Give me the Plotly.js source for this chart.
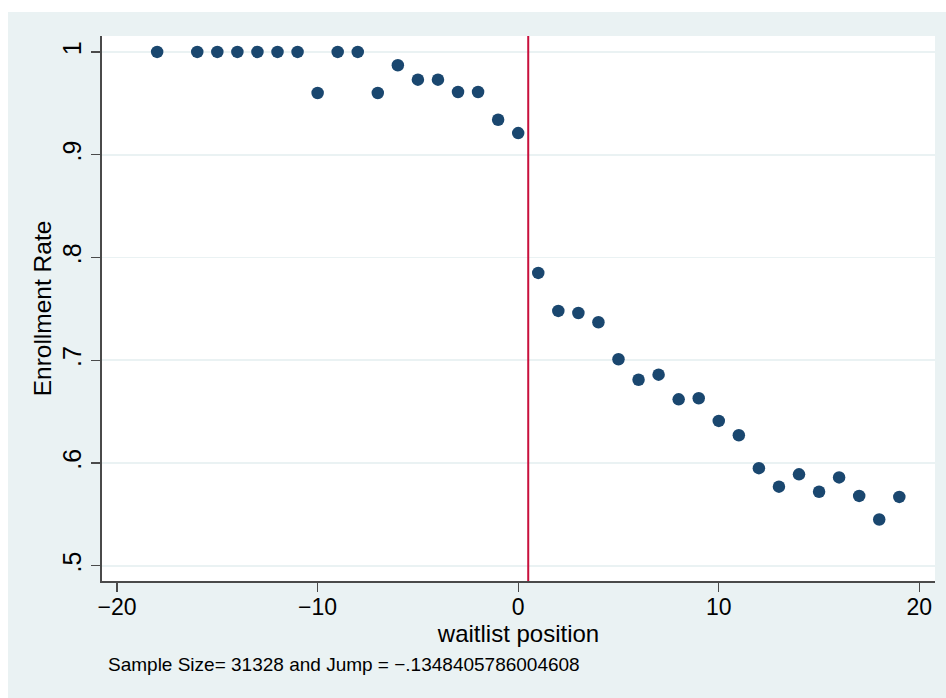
<!DOCTYPE html>
<html>
<head>
<meta charset="utf-8">
<script src="https://cdn.plot.ly/plotly-3.0.1.min.js"></script>
<style>
  html, body { margin: 0; padding: 0; background: #ffffff; }
  #chart { position: absolute; left: 8px; top: 12px; width: 938px; height: 686px; }
</style>
</head>
<body>
<div id="chart"></div>
<script>
// Waitlist position relative to the cutoff
const waitlistPosition = [-18, -16, -15, -14, -13, -12, -11, -10, -9, -8, -7, -6, -5, -4, -3, -2, -1, 0,
                          1, 2, 3, 4, 5, 6, 7, 8, 9, 10, 11, 12, 13, 14, 15, 16, 17, 18, 19];
// Mean enrollment rate at each position
const enrollmentRate = [1.000, 1.000, 1.000, 1.000, 1.000, 1.000, 1.000, 0.960, 1.000, 1.000, 0.960, 0.987,
                        0.973, 0.973, 0.961, 0.961, 0.934, 0.921,
                        0.785, 0.748, 0.746, 0.737, 0.701, 0.681, 0.686, 0.662, 0.663, 0.641, 0.627,
                        0.595, 0.577, 0.589, 0.572, 0.586, 0.568, 0.545, 0.567];
const cutoff = 0.5;
const xTicks = [-20, -10, 0, 10, 20];
const xTickText = ['\u221220', '\u221210', '0', '10', '20'];
const yTicks = [0.5, 0.6, 0.7, 0.8, 0.9, 1];
const yTickText = ['.5', '.6', '.7', '.8', '.9', '1'];
const noteText = 'Sample Size= 31328 and Jump = \u2212.1348405786004608';

const font = 'Liberation Sans, Arial, Helvetica, sans-serif';
const bg = '#eaf2f3';
const axisColor = '#4a4a4a';

const trace = {
  type: 'scatter',
  mode: 'markers',
  x: waitlistPosition,
  y: enrollmentRate,
  marker: { color: '#1a476f', size: 12.5, line: { width: 0 } },
  hoverinfo: 'x+y'
};

const layout = {
  width: 938,
  height: 686,
  paper_bgcolor: bg,
  plot_bgcolor: '#ffffff',
  margin: { l: 94, r: 11, t: 23.5, b: 116.5 },
  showlegend: false,
  font: { family: font, color: '#000000', size: 22 },
  xaxis: {
    range: [-20.75, 20.78],
    tickvals: xTicks,
    ticktext: xTickText,
    showgrid: false,
    zeroline: false,
    showline: true,
    linecolor: axisColor,
    linewidth: 1.6,
    ticks: 'outside',
    ticklen: 9,
    tickwidth: 1.3,
    tickcolor: axisColor,
    ticklabelstandoff: -4,
    tickfont: { size: 23, family: font },
    title: { text: 'waitlist position', font: { size: 24, family: font }, standoff: 3 },
    fixedrange: true
  },
  yaxis: {
    range: [0.4852, 1.0155],
    tickvals: yTicks,
    ticktext: yTickText,
    tickangle: -90,
    showgrid: true,
    gridcolor: bg,
    gridwidth: 1.6,
    zeroline: false,
    showline: true,
    linecolor: axisColor,
    linewidth: 1.6,
    ticks: 'outside',
    ticklen: 9,
    tickwidth: 1.3,
    tickcolor: axisColor,
    tickfont: { size: 25, family: font },
    title: { text: 'Enrollment Rate', font: { size: 24.5, family: font }, standoff: 0 },
    fixedrange: true
  },
  shapes: [{
    type: 'line',
    xref: 'x', yref: 'paper',
    x0: cutoff, x1: cutoff, y0: 0, y1: 1,
    line: { color: '#c8103c', width: 2 }
  }],
  annotations: [{
    text: noteText,
    xref: 'paper', yref: 'paper',
    x: (98 - 94) / 833, y: -0.153,
    xanchor: 'left', yanchor: 'middle',
    showarrow: false,
    font: { size: 19, family: font, color: '#000000' }
  }]
};

Plotly.newPlot('chart', [trace], layout, { displayModeBar: false, staticPlot: true });
</script>
</body>
</html>
